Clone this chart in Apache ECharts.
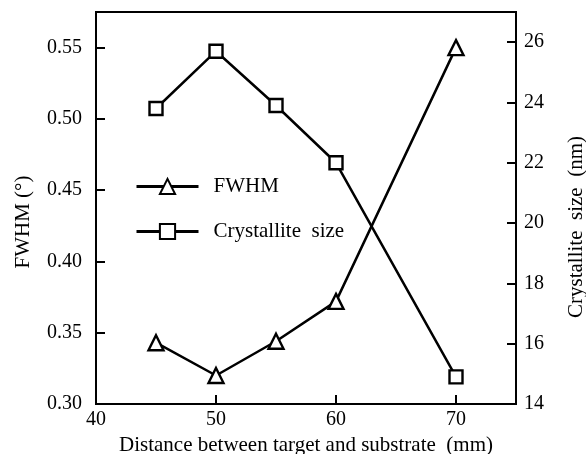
<!DOCTYPE html>
<html>
<head>
<meta charset="utf-8">
<script src="https://cdn.jsdelivr.net/npm/echarts@6/dist/echarts.min.js"></script>
<style>
  html, body { margin: 0; padding: 0; background: #fff; }
  #chart { width: 586px; height: 454px; }
</style>
</head>
<body>
<div id="chart"></div>
<script>
// distance between target and substrate (mm)
const distances = [45, 50, 55, 60, 70]
// FWHM (deg), left axis
const fwhm = [0.343, 0.320, 0.344, 0.372, 0.550]
// crystallite size (nm), right axis
const crystalliteSize = [23.8, 25.7, 23.9, 22.0, 14.9]

const serif = "'Liberation Serif', 'DejaVu Serif', serif"
const black = '#000'

const chart = echarts.init(document.getElementById('chart'), null, { renderer: 'canvas' })

const axisCommon = {
  axisLine: { show: true, lineStyle: { color: black, width: 2 } },
  axisTick: { show: true, inside: true, length: 9, lineStyle: { color: black, width: 2 } },
  splitLine: { show: false },
  nameTextStyle: { color: black, fontFamily: serif, fontSize: 21 }
}

chart.setOption({
  backgroundColor: '#fff',
  animation: false,
  grid: {
    left: 96, right: 70, top: 12, bottom: 50,
    outerBoundsMode: 'none',
    show: true, borderColor: black, borderWidth: 2
  },
  legend: {
    orient: 'vertical',
    left: 130,
    top: 171,
    itemWidth: 62,
    itemHeight: 19,
    itemGap: 24,
    lineStyle: { width: 3 },
    textStyle: { color: black, fontFamily: serif, fontSize: 21, padding: [0, 0, 0, 10] },
    data: ['FWHM', 'Crystallite  size']
  },
  xAxis: {
    ...axisCommon,
    type: 'value',
    min: 40,
    max: 75,
    interval: 10,
    name: 'Distance between target and substrate  (mm)',
    nameLocation: 'middle',
    nameGap: 28,
    axisLabel: {
      color: black, fontFamily: serif, fontSize: 20, margin: 6,
      formatter: v => (v % 10 === 0 ? String(v) : '')
    }
  },
  yAxis: [
    {
      ...axisCommon,
      type: 'value',
      position: 'left',
      min: 0.30,
      max: 0.575,
      interval: 0.05,
      name: 'FWHM (°)',
      nameLocation: 'middle',
      nameRotate: 90,
      nameGap: 62,
      nameTextStyle: { ...axisCommon.nameTextStyle, padding: [0, 28, 0, 0] },
      axisLabel: {
        color: black, fontFamily: serif, fontSize: 20, margin: 14,
        showMaxLabel: false,
        formatter: v => v.toFixed(2)
      }
    },
    {
      ...axisCommon,
      type: 'value',
      position: 'right',
      min: 14,
      max: 27,
      interval: 2,
      name: 'Crystallite  size  (nm)',
      nameLocation: 'middle',
      nameRotate: 90,
      nameGap: 50,
      nameTextStyle: { ...axisCommon.nameTextStyle, padding: [0, 38, 0, 0] },
      axisLabel: {
        color: black, fontFamily: serif, fontSize: 20, margin: 8,
        showMaxLabel: false
      }
    }
  ],
  series: [
    {
      name: 'FWHM',
      type: 'line',
      yAxisIndex: 0,
      data: distances.map((d, i) => [d, fwhm[i]]),
      symbol: 'triangle',
      symbolSize: 15,
      lineStyle: { color: black, width: 2.5 },
      itemStyle: { color: '#fff', borderColor: black, borderWidth: 2.4 }
    },
    {
      name: 'Crystallite  size',
      type: 'line',
      yAxisIndex: 1,
      data: distances.map((d, i) => [d, crystalliteSize[i]]),
      symbol: 'rect',
      symbolSize: 13,
      lineStyle: { color: black, width: 2.5 },
      itemStyle: { color: '#fff', borderColor: black, borderWidth: 2.4 }
    }
  ]
})
</script>
</body>
</html>
